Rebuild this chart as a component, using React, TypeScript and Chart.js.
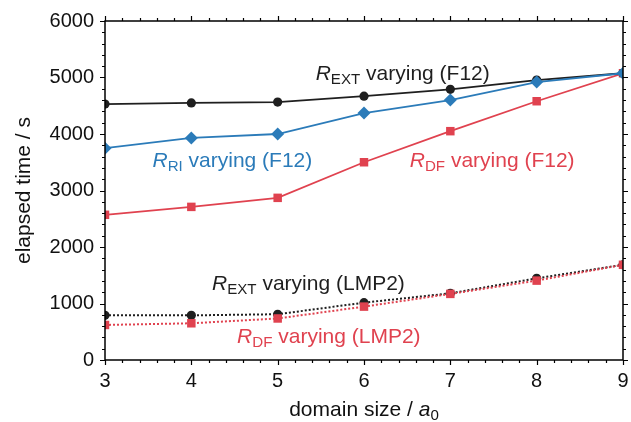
import React, { useEffect, useRef } from 'react';
import { Chart, registerables } from 'chart.js';

Chart.register(...registerables);

// ---- data ----
const domainSize = [3, 4, 5, 6, 7, 8, 9];
const rextF12 = [4530, 4550, 4565, 4670, 4790, 4955, 5075];
const rriF12 = [3750, 3930, 4000, 4370, 4600, 4920, 5075];
const rdfF12 = [2570, 2710, 2870, 3500, 4050, 4580, 5075];
const rextLMP2 = [790, 790, 810, 1015, 1180, 1445, 1685];
const rdfLMP2 = [620, 650, 735, 945, 1170, 1405, 1685];

const xMin = 3;
const xMax = 9;
const xMajorStep = 1;
const xMinorStep = 0.2;
const yMin = 0;
const yMax = 6000;
const yMajorStep = 1000;
const yMinorStep = 200;

const yTitle = 'elapsed time / s';
const xTitleParts = [
  { text: 'domain size / ' },
  { text: 'a', italic: true },
  { text: '0', sub: true },
];

const BLACK = '#1f1f1f';
const BLUE = '#2b7bb9';
const RED = '#e0424f';

const FONT = '"Liberation Sans", Arial, Helvetica, sans-serif';

type Part = { text: string; italic?: boolean; sub?: boolean };

// annotation labels, anchored in data coordinates (left, baseline)
const labels: { x: number; y: number; color: string; parts: Part[] }[] = [
  { x: 5.44, y: 4960, color: BLACK, parts: [{ text: 'R', italic: true }, { text: 'EXT', sub: true }, { text: ' varying (F12)' }] },
  { x: 3.55, y: 3410, color: BLUE, parts: [{ text: 'R', italic: true }, { text: 'RI', sub: true }, { text: ' varying (F12)' }] },
  { x: 6.53, y: 3410, color: RED, parts: [{ text: 'R', italic: true }, { text: 'DF', sub: true }, { text: ' varying (F12)' }] },
  { x: 4.24, y: 1235, color: BLACK, parts: [{ text: 'R', italic: true }, { text: 'EXT', sub: true }, { text: ' varying (LMP2)' }] },
  { x: 4.53, y: 300, color: RED, parts: [{ text: 'R', italic: true }, { text: 'DF', sub: true }, { text: ' varying (LMP2)' }] },
];

function drawRich(ctx: CanvasRenderingContext2D, x: number, y: number, parts: Part[], size: number, align: 'left' | 'center' = 'left') {
  const fontFor = (p: Part) => `${p.italic ? 'italic ' : ''}${p.sub ? size * 0.72 : size}px ${FONT}`;
  let total = 0;
  for (const p of parts) {
    ctx.font = fontFor(p);
    total += ctx.measureText(p.text).width;
  }
  let cx = align === 'center' ? x - total / 2 : x;
  ctx.textAlign = 'left';
  ctx.textBaseline = 'alphabetic';
  for (const p of parts) {
    ctx.font = fontFor(p);
    ctx.fillText(p.text, cx, p.sub ? y + size * 0.18 : y);
    cx += ctx.measureText(p.text).width;
  }
}

const framePlugin = {
  id: 'frameAndText',
  afterDraw(chart: any) {
    const { ctx, chartArea: a, scales } = chart;
    const xs = scales.x;
    const ys = scales.y;
    ctx.save();
    ctx.strokeStyle = '#000';
    ctx.lineWidth = 1.5;
    ctx.strokeRect(a.left, a.top, a.right - a.left, a.bottom - a.top);
    ctx.lineWidth = 1.2;
    ctx.beginPath();
    const nx = Math.round((xMax - xMin) / xMinorStep);
    for (let i = 0; i <= nx; i++) {
      const v = xMin + i * xMinorStep;
      const major = Math.abs(v / xMajorStep - Math.round(v / xMajorStep)) < 1e-6;
      const len = major ? 5 : 3;
      const px = Math.round(xs.getPixelForValue(v)) + 0.5;
      ctx.moveTo(px, a.bottom);
      ctx.lineTo(px, a.bottom + len);
      ctx.moveTo(px, a.top);
      ctx.lineTo(px, a.top - len);
    }
    const ny = Math.round((yMax - yMin) / yMinorStep);
    for (let i = 0; i <= ny; i++) {
      const v = yMin + i * yMinorStep;
      const major = v % yMajorStep === 0;
      const len = major ? 5 : 3;
      const py = Math.round(ys.getPixelForValue(v)) + 0.5;
      ctx.moveTo(a.left, py);
      ctx.lineTo(a.left - len, py);
      ctx.moveTo(a.right, py);
      ctx.lineTo(a.right + len, py);
    }
    ctx.stroke();

    // axis titles
    ctx.fillStyle = '#111';
    drawRich(ctx, (a.left + a.right) / 2, 416, xTitleParts, 21, 'center');
    ctx.save();
    ctx.translate(30, (a.top + a.bottom) / 2);
    ctx.rotate(-Math.PI / 2);
    drawRich(ctx, 0, 0, [{ text: yTitle }], 21, 'center');
    ctx.restore();

    // annotations
    for (const l of labels) {
      ctx.fillStyle = l.color;
      drawRich(ctx, xs.getPixelForValue(l.x), ys.getPixelForValue(l.y), l.parts, 21);
    }
    ctx.restore();
  },
};

const toPts = (ys: number[]) => domainSize.map((x, i) => ({ x, y: ys[i] }));

export default function App() {
  const ref = useRef<HTMLCanvasElement | null>(null);
  useEffect(() => {
    if (!ref.current) return;
    const chart = new Chart(ref.current, {
      type: 'scatter',
      data: {
        datasets: [
          {
            label: 'RRI F12', data: toPts(rriF12), showLine: true, borderColor: BLUE, backgroundColor: BLUE,
            borderWidth: 1.8, pointStyle: 'rectRot', pointRadius: 6.5, pointBorderWidth: 0, order: 1,
          },
          {
            label: 'REXT F12', data: toPts(rextF12), showLine: true, borderColor: BLACK, backgroundColor: BLACK,
            borderWidth: 1.8, pointStyle: 'circle', pointRadius: 4.6, pointBorderWidth: 0, order: 2,
          },
          {
            label: 'RDF F12', data: toPts(rdfF12), showLine: true, borderColor: RED, backgroundColor: RED,
            borderWidth: 1.8, pointStyle: 'rect', pointRadius: 6, pointBorderWidth: 0, order: 3,
          },
          {
            label: 'RDF LMP2', data: toPts(rdfLMP2), showLine: true, borderColor: RED, backgroundColor: RED,
            borderWidth: 2, borderDash: [2, 2], pointStyle: 'rect', pointRadius: 6, pointBorderWidth: 0, order: 4,
          },
          {
            label: 'REXT LMP2', data: toPts(rextLMP2), showLine: true, borderColor: BLACK, backgroundColor: BLACK,
            borderWidth: 2, borderDash: [2, 2], pointStyle: 'circle', pointRadius: 4.6, pointBorderWidth: 0, order: 5,
          },
        ],
      },
      options: {
        animation: false,
        responsive: false,
        maintainAspectRatio: false,
        layout: { padding: { top: 21, right: 8, left: 0, bottom: 0 } },
        plugins: { legend: { display: false }, tooltip: { enabled: false } },
        scales: {
          x: {
            type: 'linear', min: xMin, max: xMax,
            grid: { display: false, drawTicks: false },
            border: { display: false },
            ticks: {
              stepSize: xMajorStep, color: '#111', font: { family: FONT, size: 20 }, padding: 9, maxRotation: 0, autoSkip: false,
              callback: (v: any) => String(v),
            },
            afterFit: (s: any) => { s.height = 62; s.paddingLeft = 0; s.paddingRight = 0; },
          },
          y: {
            type: 'linear', min: yMin, max: yMax,
            grid: { display: false, drawTicks: false },
            border: { display: false },
            ticks: {
              stepSize: yMajorStep, color: '#111', font: { family: FONT, size: 20 }, padding: 11,
              callback: (v: any) => String(v),
            },
            afterFit: (s: any) => { s.width = 105; s.paddingTop = 0; s.paddingBottom = 0; },
          },
        },
      },
      plugins: [framePlugin],
    } as any);
    return () => chart.destroy();
  }, []);
  return (
    <div style={{ position: 'fixed', left: 0, top: 0, width: 631, height: 422, background: '#fff' }}>
      <canvas ref={ref} width={631} height={422} style={{ width: 631, height: 422 }} />
    </div>
  );
}
